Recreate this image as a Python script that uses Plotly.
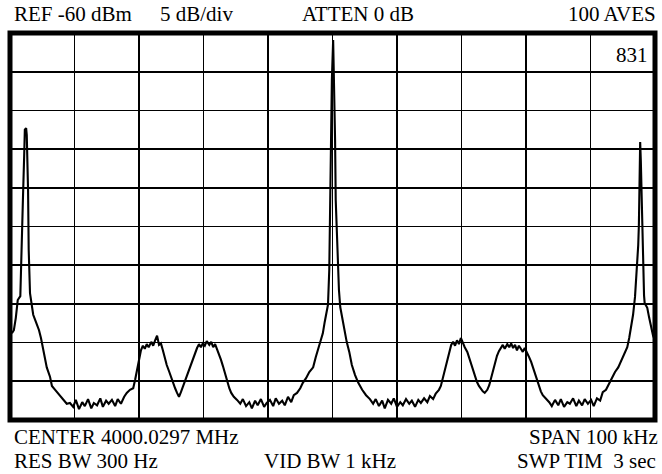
import plotly.graph_objects as go

freq_khz = [
    -49.7, -49.4, -49.1, -48.8, -48.4, -48.3, -48.1, -48.0, -47.8, -47.7, -47.5, -47.4, -47.2, -47.1, -46.9,
    -46.7, -46.4, -46.0, -45.5, -45.2, -44.9, -44.6, -44.3, -43.8, -43.5, -43.0, -42.6, -42.1, -41.6, -41.2,
    -40.7, -40.2, -39.8, -39.3, -38.8, -38.4, -37.9, -37.4, -37.0, -36.5, -36.0, -35.6, -35.1, -34.7, -34.2,
    -33.7, -33.3, -32.8, -32.3, -31.9,
    -31.4, -30.9, -30.6, -30.3, -30.0, -29.7, -29.4, -29.1, -28.8, -28.5, -28.1, -27.8, -27.5, -27.2, -26.9,
    -26.6, -26.3, -26.0, -25.7, -25.3, -25.0, -24.7, -24.4, -24.1, -23.8, -23.5, -23.2, -22.9, -22.6, -22.2,
    -21.9, -21.6, -21.3, -21.0, -20.7, -20.4, -20.1, -19.8, -19.5, -19.1, -18.8, -18.5, -18.2, -17.9, -17.6,
    -17.3, -17.0, -16.7, -16.4, -16.0, -15.7, -15.3, -14.8, -14.3,
    -13.9, -13.4, -12.9, -12.5, -12.0, -11.6, -11.1, -10.6, -10.2, -9.7, -9.2, -8.8, -8.3, -7.8, -7.4,
    -6.9, -6.4, -6.0,
    -5.5, -5.0, -4.6, -4.1, -3.6, -3.0, -2.6, -2.1, -1.8, -1.5, -1.2, -0.9, -0.7, -0.5, -0.4,
    -0.2, -0.1, 0.1, 0.2, 0.4, 0.5, 0.7, 0.9, 1.0, 1.2, 1.5, 1.8, 1.9, 2.2, 2.6,
    3.0, 3.5, 4.0, 4.6, 5.2, 5.8,
    6.3, 6.7, 7.2, 7.7, 8.1, 8.6, 9.1, 9.5, 10.0, 10.5, 10.9, 11.4, 11.9, 12.3, 12.8,
    13.3, 13.7, 14.2, 14.7, 15.1, 15.6, 16.0, 16.5,
    16.8, 17.1, 17.4, 17.8, 18.1, 18.4, 18.7, 19.0, 19.3, 19.6, 19.9, 20.2, 20.5, 20.9, 21.2,
    21.5, 21.8, 22.1, 22.4, 22.7, 23.0, 23.3, 23.6, 24.0, 24.3, 24.6, 24.9, 25.2, 25.5, 25.8,
    26.1, 26.4, 26.7, 27.1, 27.4, 27.7, 28.0, 28.3, 28.6, 28.9, 29.2, 29.5, 29.8, 30.2, 30.5,
    30.8, 31.1, 31.4, 31.7, 32.0, 32.3, 32.6, 33.1, 33.6,
    34.0, 34.5, 35.0, 35.4, 35.9, 36.4, 36.8, 37.3, 37.8, 38.2, 38.7, 39.1, 39.6, 40.1, 40.5,
    41.0, 41.5, 41.9,
    42.4, 42.9, 43.3, 43.8, 44.3, 44.7, 45.2, 45.7, 46.0, 46.3, 46.6, 46.9, 47.1, 47.2, 47.4,
    47.5, 47.7, 47.8, 48.0, 48.1, 48.3, 48.4, 48.8, 49.1, 49.4, 49.7, 50.0,
]
level_dbm = [
    -98.8, -98.4, -96.8, -94.5, -94.0, -90.0, -86.1, -81.6, -75.8, -72.5, -72.3, -73.2, -80.3, -88.0, -93.6,
    -94.5, -96.4, -97.3, -98.4, -99.4, -100.6, -101.6, -103.2, -104.4, -105.6, -106.1, -106.5, -107.0, -107.4, -107.9,
    -107.8, -108.3, -107.4, -108.6, -107.7, -108.2, -107.3, -108.5, -107.8, -108.1, -107.2, -108.3, -107.5, -107.9, -107.4,
    -108.2, -107.3, -107.9, -107.0, -106.5,
    -106.1, -105.9, -104.8, -103.5, -102.0, -101.0, -100.4, -100.8, -100.2, -100.6, -99.9, -100.4, -99.7, -99.1, -100.3,
    -100.1, -101.0, -102.0, -102.9, -103.8, -104.6, -105.3, -105.9, -106.5, -107.0, -106.4, -105.7, -105.1, -104.3, -103.5,
    -102.8, -102.0, -101.2, -100.7, -100.2, -100.6, -100.1, -100.4, -99.8, -100.3, -99.9, -100.6, -100.2, -100.8, -101.6,
    -102.2, -103.0, -103.9, -105.0, -105.9, -106.5, -107.0, -107.4, -107.9,
    -107.3, -108.2, -107.7, -108.5, -107.5, -108.1, -107.3, -108.3, -107.8, -107.4, -108.2, -107.2, -107.9, -107.5, -108.1,
    -107.0, -107.7, -106.8,
    -106.5, -105.9, -105.2, -104.6, -103.8, -103.2, -101.9, -100.6, -99.7, -98.8, -97.3, -96.0, -95.1, -90.6, -82.9,
    -75.1, -66.1, -60.9, -64.8, -73.8, -81.6, -86.7, -89.3, -93.2, -95.4, -96.8, -97.9, -98.6, -99.9, -101.2,
    -102.9, -104.2, -105.2, -106.1, -106.8, -107.3,
    -107.9, -107.3, -108.2, -107.5, -108.5, -107.4, -107.9, -107.2, -108.3, -107.7, -108.1, -107.3, -107.9, -107.5, -108.3,
    -107.4, -107.8, -107.2, -107.7, -106.9, -107.3, -106.6, -106.1,
    -105.6, -104.6, -103.3, -102.0, -101.0, -100.3, -99.9, -100.4, -99.7, -100.2, -99.4, -100.1, -100.6, -101.2, -102.0,
    -102.8, -103.7, -104.4, -105.1, -105.6, -106.0, -106.3, -106.5, -106.1, -105.5, -104.6, -103.5, -102.5, -101.7, -101.1,
    -100.7, -100.3, -100.8, -100.2, -100.6, -100.1, -100.7, -100.3, -101.0, -100.4, -100.8, -101.2, -100.7, -101.3, -101.9,
    -102.5, -103.3, -104.1, -104.8, -105.6, -106.3, -106.8, -107.2, -107.7,
    -108.2, -107.4, -108.1, -107.3, -108.3, -107.7, -107.9, -107.2, -108.2, -107.5, -108.1, -107.3, -107.9, -107.4, -108.2,
    -107.2, -107.5, -106.4,
    -106.1, -105.2, -104.6, -103.8, -103.2, -102.5, -101.6, -100.6, -99.4, -98.0, -96.4, -94.1, -91.9, -89.7, -87.4,
    -84.8, -74.1, -76.4, -85.1, -89.3, -93.9, -94.9, -95.5, -96.8, -98.1, -99.1, -99.7,
]

header_left = ["REF -60 dBm", "5 dB/div", "ATTEN 0 dB"]
header_right = "100 AVES"
footer_row1 = ["CENTER 4000.0297 MHz", "SPAN 100 kHz"]
footer_row2 = ["RES BW 300 Hz", "VID BW 1 kHz", "SWP TIM  3 sec"]
counter_label = "831"

FONT = "Liberation Serif, Times New Roman, serif"

fig = go.Figure()
fig.add_trace(go.Scatter(
    x=freq_khz, y=level_dbm, mode="lines",
    line=dict(color="black", width=2.1),
    hoverinfo="skip", showlegend=False,
))

fig.update_layout(
    width=662, height=474,
    margin=dict(l=10, r=7, t=33, b=54),
    paper_bgcolor="white", plot_bgcolor="white",
    showlegend=False,
    xaxis=dict(range=[-50, 50], tick0=-50, dtick=10, showgrid=True,
               gridcolor="black", gridwidth=1.6, zeroline=False,
               showticklabels=False, ticks="", fixedrange=True),
    yaxis=dict(range=[-110, -60], tick0=-110, dtick=5, showgrid=True,
               gridcolor="black", gridwidth=1.6, zeroline=False,
               showticklabels=False, ticks="", fixedrange=True),
)

# Thick instrument frame
fig.add_shape(type="rect", xref="paper", yref="paper", x0=0, y0=0, x1=1, y1=1,
              line=dict(color="black", width=5), layer="above")

tfont = dict(family=FONT, size=21, color="black")

def ann(text, x, y, xanchor):
    fig.add_annotation(text=text, x=x, y=y, xref="paper", yref="paper",
                       xanchor=xanchor, yanchor="middle", showarrow=False, font=tfont)

ann(header_left[0], 0.003, 1.049, "left")
ann(header_left[1], 0.229, 1.049, "left")
ann(header_left[2], 0.450, 1.049, "left")
ann(header_right, 1.005, 1.049, "right")
ann(footer_row1[0], 0.003, -0.044, "left")
ann(footer_row1[1], 1.008, -0.044, "right")
ann(footer_row2[0], 0.003, -0.106, "left")
ann(footer_row2[1], 0.391, -0.106, "left")
ann(footer_row2[2], 1.005, -0.106, "right")
ann(counter_label, 0.992, 0.943, "right")

fig.write_html(
    "out.html",
    config={"displayModeBar": False, "staticPlot": True},
    post_script="document.body.style.margin='0';document.body.style.overflow='hidden';",
)
